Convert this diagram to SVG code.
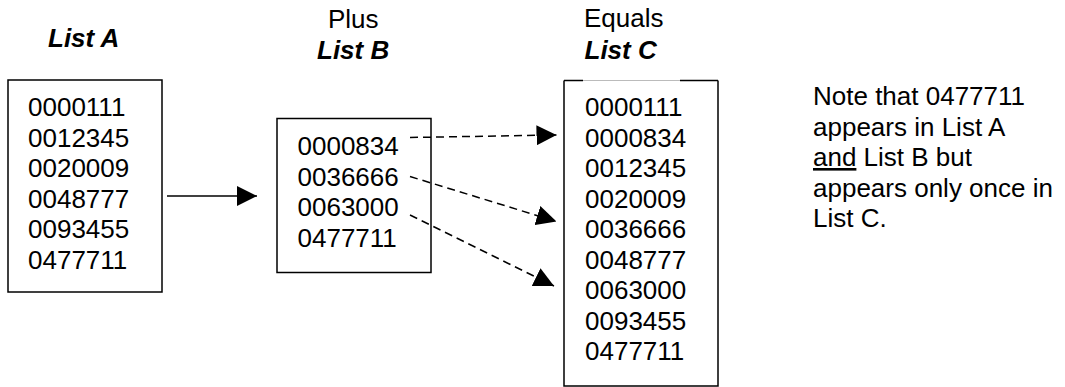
<svg xmlns="http://www.w3.org/2000/svg" width="1065" height="387" viewBox="0 0 1065 387">
<style>
text{font-family:"Liberation Sans",Arial,sans-serif;font-size:26px;fill:#000}
.h{font-weight:bold;font-style:italic}
.box{fill:#fff;stroke:#000;stroke-width:1.5}
.c{stroke:#000;stroke-width:1.5;fill:none}
.d{stroke-dasharray:8,5}
</style>
<defs>
<marker id="ah" markerUnits="userSpaceOnUse" markerWidth="20" markerHeight="20" viewBox="0 0 20 20" refX="20" refY="10" orient="auto">
<path d="M0,0 L20,10 L0,20 Z" fill="#000"/>
</marker>
</defs>
<rect width="1065" height="387" fill="#fff"/>
<g id="listA">
<text class="h" x="48" y="47">List A</text>
<rect class="box" x="8" y="80" width="154" height="212"/>
<text x="28" y="116">0000111</text>
<text x="28" y="146.5">0012345</text>
<text x="28" y="177">0020009</text>
<text x="28" y="207.5">0048777</text>
<text x="28" y="238">0093455</text>
<text x="28" y="268.5">0477711</text>
</g>
<g id="listB">
<text x="328" y="27.5">Plus</text>
<text class="h" x="317" y="58.5">List B</text>
<rect class="box" x="277" y="118.5" width="154" height="154"/>
<text x="297.5" y="155">0000834</text>
<text x="297.5" y="185.5">0036666</text>
<text x="297.5" y="216">0063000</text>
<text x="297.5" y="246.5">0477711</text>
</g>
<g id="listC">
<text x="584" y="27">Equals</text>
<text class="h" x="584.5" y="58.5">List C</text>
<path d="M564,80.5 V386 H718 V80.5" class="box" fill="none"/>
<path d="M564,80.5 H583 M680,80.5 H718" stroke="#000" stroke-width="1.5" fill="none"/>
<path d="M583,80.5 H680" stroke="#bbb" stroke-width="1" fill="none"/>
<text x="585" y="116">0000111</text>
<text x="585" y="146.5">0000834</text>
<text x="585" y="177">0012345</text>
<text x="585" y="207.5">0020009</text>
<text x="585" y="238">0036666</text>
<text x="585" y="268.5">0048777</text>
<text x="585" y="299">0063000</text>
<text x="585" y="329.5">0093455</text>
<text x="585" y="360">0477711</text>
</g>
<g id="note">
<text x="813" y="105">Note that 0477711</text>
<text x="813" y="135.5">appears in List A</text>
<text x="813" y="166"><tspan text-decoration="underline">and</tspan> List B but</text>
<text x="813" y="196.5">appears only once in</text>
<text x="813" y="227">List C.</text>
</g>
<g id="connectors">
<line class="c" x1="167" y1="196" x2="257" y2="196" marker-end="url(#ah)"/>
<line class="c d" x1="410" y1="137.5" x2="556.5" y2="135" marker-end="url(#ah)"/>
<line class="c d" x1="410" y1="176.5" x2="556.5" y2="221.5" marker-end="url(#ah)"/>
<line class="c d" x1="410" y1="215" x2="554" y2="286" marker-end="url(#ah)"/>
</g>
</svg>
